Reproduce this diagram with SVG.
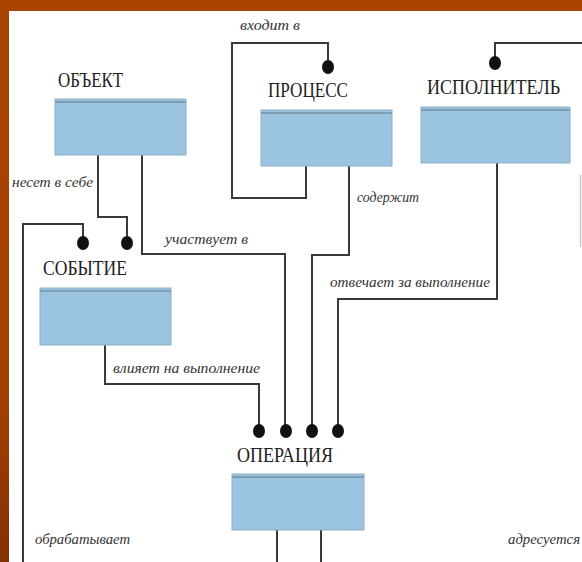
<svg xmlns="http://www.w3.org/2000/svg" width="582" height="562" viewBox="0 0 582 562">
<defs>
<linearGradient id="lb" x1="0" y1="0" x2="0" y2="1">
<stop offset="0" stop-color="#A84400"/>
<stop offset="0.7" stop-color="#A34000"/>
<stop offset="1" stop-color="#853000"/>
</linearGradient>
<style>
.box{fill:#9AC4E0;stroke:#8FAFC4;stroke-width:1}
.band{fill:#7E9DB2}
.ttl{font-family:"Liberation Serif","DejaVu Serif",serif;font-size:20px;fill:#222}
.lbl{font-family:"Liberation Serif","DejaVu Serif",serif;font-style:italic;font-size:14px;fill:#333}
.ln{fill:none;stroke:#3A3A3A;stroke-width:2}
.dot{fill:#111}
</style>
</defs>
<rect x="0" y="0" width="582" height="562" fill="#FFFFFF"/>
<rect x="0" y="0" width="582" height="11" fill="#A84400"/>
<rect x="0" y="0" width="9" height="562" fill="url(#lb)"/>
<line x1="580.5" y1="175" x2="580.5" y2="247" stroke="#C8C8D0" stroke-width="1.5"/>

<g id="connectors">
<polyline class="ln" points="98,155 98,217 127,217 127,243"/>
<polyline class="ln" points="83,243 83,224 23,224 23,562"/>
<polyline class="ln" points="142,155 142,254 285,254 285,431"/>
<polyline class="ln" points="306,166 306,198 232,198 232,43 328,43 328,67"/>
<polyline class="ln" points="349,166 349,255 312,255 312,431"/>
<polyline class="ln" points="495,63 495,43 582,43"/>
<polyline class="ln" points="497,163 497,299 338,299 338,431"/>
<polyline class="ln" points="105,345 105,384 259,384 259,431"/>
<line class="ln" x1="277" y1="530" x2="277" y2="562"/>
<line class="ln" x1="321" y1="530" x2="321" y2="562"/>
<ellipse class="dot" cx="83" cy="243" rx="6" ry="7"/>
<ellipse class="dot" cx="127" cy="243" rx="6" ry="7"/>
<ellipse class="dot" cx="328" cy="67" rx="6" ry="7"/>
<ellipse class="dot" cx="495" cy="63" rx="6" ry="7"/>
<ellipse class="dot" cx="259" cy="431" rx="6" ry="7"/>
<ellipse class="dot" cx="286" cy="431" rx="6" ry="7"/>
<ellipse class="dot" cx="312" cy="431" rx="6" ry="7"/>
<ellipse class="dot" cx="338" cy="431" rx="6" ry="7"/>
<text class="lbl" x="240" y="30" textLength="60" lengthAdjust="spacingAndGlyphs">входит в</text>
<text class="lbl" x="12" y="187" textLength="81" lengthAdjust="spacingAndGlyphs">несет в себе</text>
<text class="lbl" x="165" y="244" textLength="83" lengthAdjust="spacingAndGlyphs">участвует в</text>
<text class="lbl" x="357" y="202" textLength="62" lengthAdjust="spacingAndGlyphs">содержит</text>
<text class="lbl" x="330" y="287" textLength="160" lengthAdjust="spacingAndGlyphs">отвечает за выполнение</text>
<text class="lbl" x="113" y="373" textLength="147" lengthAdjust="spacingAndGlyphs">влияет на выполнение</text>
<text class="lbl" x="35" y="544" textLength="95" lengthAdjust="spacingAndGlyphs">обрабатывает</text>
<text class="lbl" x="508" y="544" textLength="72" lengthAdjust="spacingAndGlyphs">адресуется</text>
</g>

<g id="obj">
<text class="ttl" x="58" y="87" textLength="65" lengthAdjust="spacingAndGlyphs">ОБЪЕКТ</text>
<rect class="box" x="55" y="99" width="131" height="56"/>
<rect class="band" x="55" y="101" width="131" height="2"/>
</g>
<g id="process">
<text class="ttl" x="268" y="97" textLength="80" lengthAdjust="spacingAndGlyphs">ПРОЦЕСС</text>
<rect class="box" x="261" y="110" width="131" height="56"/>
<rect class="band" x="261" y="112" width="131" height="2"/>
</g>
<g id="executor">
<text class="ttl" x="427" y="94" textLength="133" lengthAdjust="spacingAndGlyphs">ИСПОЛНИТЕЛЬ</text>
<rect class="box" x="421" y="107" width="149" height="56"/>
<rect class="band" x="421" y="109" width="149" height="2"/>
</g>
<g id="event">
<text class="ttl" x="43" y="275" textLength="84" lengthAdjust="spacingAndGlyphs">СОБЫТИЕ</text>
<rect class="box" x="40" y="288" width="131" height="57"/>
<rect class="band" x="40" y="290" width="131" height="2"/>
</g>
<g id="operation">
<text class="ttl" x="237" y="462" textLength="96" lengthAdjust="spacingAndGlyphs">ОПЕРАЦИЯ</text>
<rect class="box" x="232" y="474" width="132" height="56"/>
<rect class="band" x="232" y="476" width="132" height="2"/>
</g>
</svg>
